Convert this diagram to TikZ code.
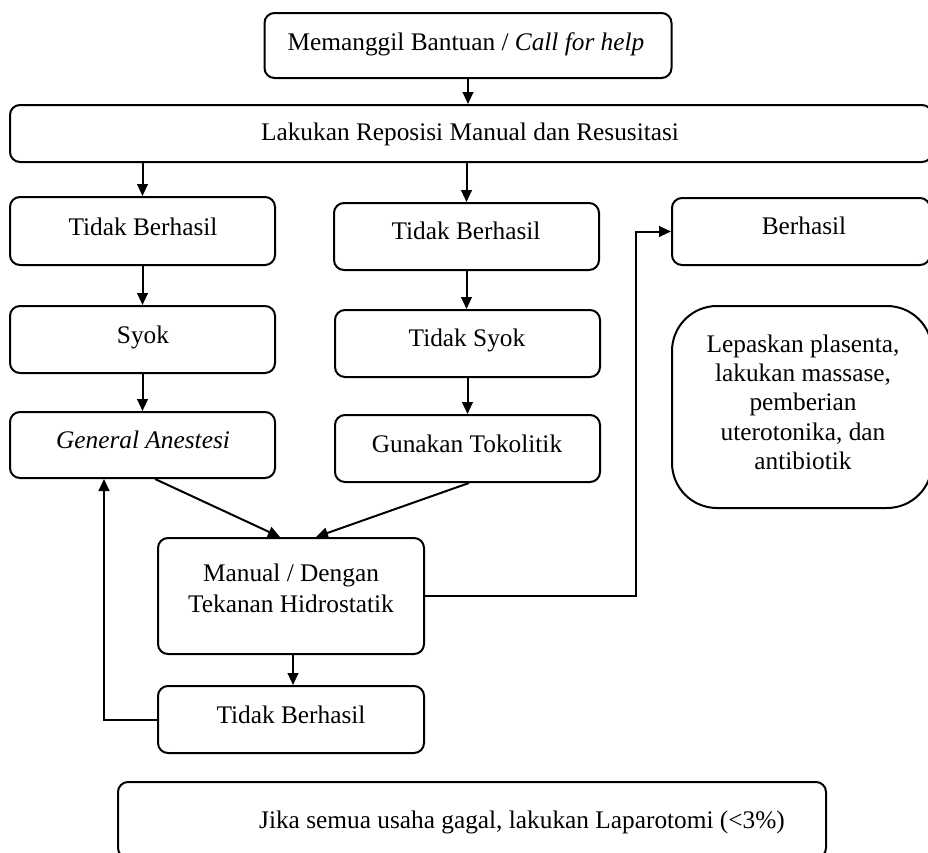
\documentclass[tikz,border=0pt]{standalone}
\usepackage{fontspec}
\setmainfont{Liberation Serif}
\usetikzlibrary{arrows.meta,calc}
\begin{document}
\begin{tikzpicture}[x=0.75pt,y=-0.75pt,
  box/.style={draw=black,line width=1.5pt,rounded corners=7.5pt,inner sep=0pt,rectangle},
  txt/.style={inner sep=0pt,font=\fontsize{19}{22.5}\selectfont,align=center},
  arr/.style={line width=1.5pt,-{Triangle[length=9pt,width=8pt]}}]
\useasboundingbox (0,0) rectangle (928,853);
% boxes
\node[box,minimum width=305.25pt,minimum height=48.75pt] (b1) at (468,45.5) {};
\node[box,minimum width=691.5pt,minimum height=42.75pt] (b2) at (471,133.5) {};
\node[box,minimum width=198.75pt,minimum height=51pt] (b3L) at (142.5,231) {};
\node[box,minimum width=198.75pt,minimum height=50.25pt] (b4L) at (142.5,339.5) {};
\node[box,minimum width=198.75pt,minimum height=49.5pt] (b5L) at (142.5,445) {};
\node[box,minimum width=198.75pt,minimum height=50.25pt] (b3M) at (466.5,236.5) {};
\node[box,minimum width=198.75pt,minimum height=50.25pt] (b4M) at (467.5,343.5) {};
\node[box,minimum width=198.75pt,minimum height=50.25pt] (b5M) at (467.5,448.5) {};
\node[box,minimum width=193.5pt,minimum height=50.25pt] (bB) at (801,231.5) {};
\node[box,rounded corners=33.75pt,minimum width=195pt,minimum height=151.5pt] (bL) at (802,407) {};
\node[box,minimum width=199.5pt,minimum height=87pt] (bM) at (291,596) {};
\node[box,minimum width=199.5pt,minimum height=50.25pt] (bT) at (291,719.5) {};
\node[box,minimum width=531pt,minimum height=57pt] (bLap) at (472,820) {};
% texts
\node[txt,anchor=base] (t1) at (466,50) {Memanggil Bantuan / \textit{Call for help}};
\node[txt,anchor=base] (t2) at (470,140) {Lakukan Reposisi Manual dan Resusitasi};
\node[txt,anchor=base] (t3L) at (143,235) {Tidak Berhasil};
\node[txt,anchor=base] (t4L) at (143,343) {Syok};
\node[txt,anchor=base] (t5L) at (143,448) {\textit{General Anestesi}};
\node[txt,anchor=base] (t3M) at (466,239) {Tidak Berhasil};
\node[txt,anchor=base] (t4M) at (467,346) {Tidak Syok};
\node[txt,anchor=base] (t5M) at (467,452) {Gunakan Tokolitik};
\node[txt,anchor=base] (tB) at (804,234) {Berhasil};
\node[txt,font=\fontsize{19}{22}\selectfont] (tL) at (803,402) {Lepaskan plasenta,\\lakukan massase,\\pemberian\\uterotonika, dan\\antibiotik};
\node[txt,font=\fontsize{19}{23.25}\selectfont] (tM) at (291,588) {Manual / Dengan\\Tekanan Hidrostatik};
\node[txt,anchor=base] (tT) at (291,723) {Tidak Berhasil};
\node[txt,anchor=base] (tLap) at (522,828) {Jika semua usaha gagal, lakukan Laparotomi (<3\%)};
% connectors
\draw[arr] (b1.south) -- (b1.south |- b2.north);
\draw[arr] (b2.south -| b3L.north) -- (b3L.north);
\draw[arr] (b2.south -| b3M.north) -- (b3M.north);
\draw[arr] (b3L.south) -- (b4L.north);
\draw[arr] (b4L.south) -- (b5L.north);
\draw[arr] (b3M.south) -- (b3M.south |- b4M.north);
\draw[arr] (b4M.south) -- (b5M.north);
\draw[arr] ($(b5L.south)+(12.5,0)$) -- ($(bM.north)+(-11,0)$);
\draw[arr] ($(b5M.south)+(1.5,0)$) -- ($(bM.north)+(25,0)$);
\draw[arr] (bM.east) -- ++(211,0) |- (bB.west);
\draw[arr] ($(bM.south)+(2,0)$) -- ($(bT.north)+(2,0)$);
\draw[arr] (bT.west) -| ($(b5L.south)+(-38.5,0)$);
\end{tikzpicture}
\end{document}
